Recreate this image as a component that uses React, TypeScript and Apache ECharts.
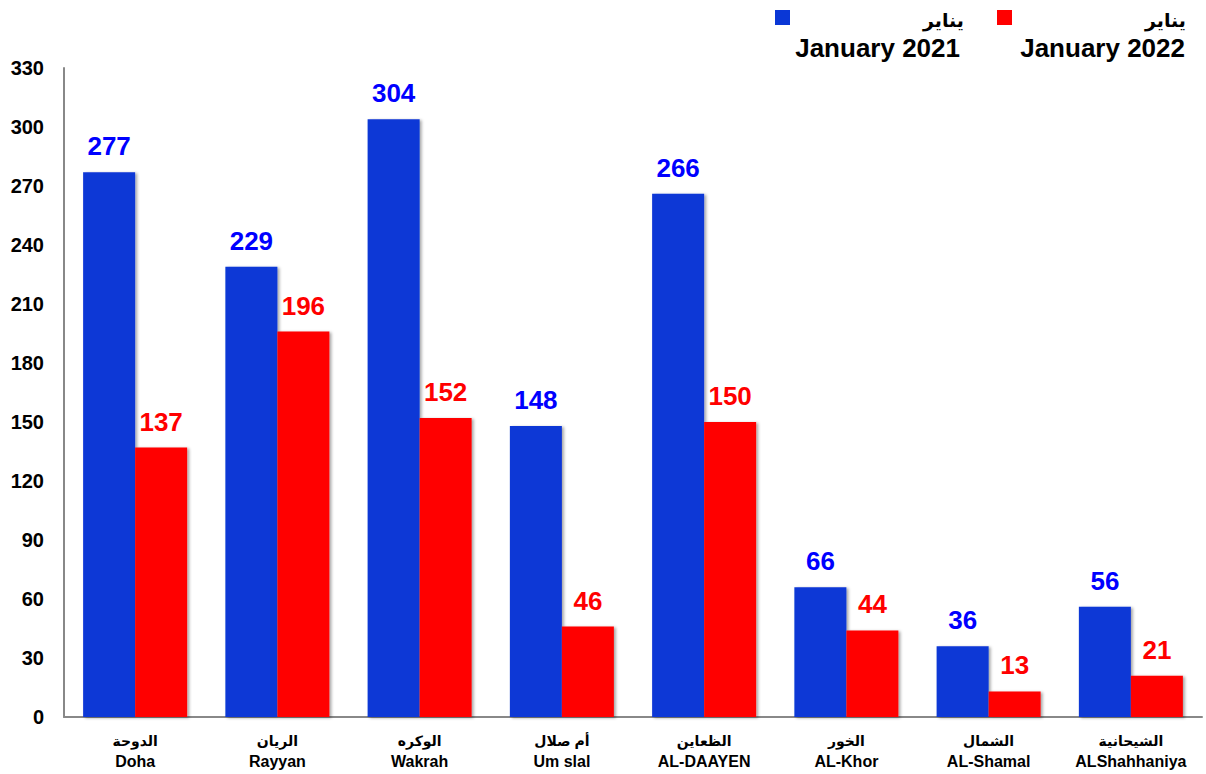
import React, { useEffect, useRef } from "react";
import * as echarts from "echarts";

const categoriesEn = ["Doha", "Rayyan", "Wakrah", "Um slal", "AL-DAAYEN", "AL-Khor", "AL-Shamal", "ALShahhaniya"];
const categoriesAr = ["الدوحة", "الريان", "الوكره", "أم صلال", "الظعاين", "الخور", "الشمال", "الشيحانية"];
const values2021 = [277, 229, 304, 148, 266, 66, 36, 56];
const values2022 = [137, 196, 152, 46, 150, 44, 13, 21];
const seriesNames = ["January 2021", "January 2022"];
const legendAr = "يناير";

const FONT = "'Liberation Sans', Arial, 'DejaVu Sans', sans-serif";
const BLUE = "#0a37d6";
const RED = "#ff0000";

export default function App() {
  const ref = useRef<HTMLDivElement>(null);
  useEffect(() => {
    if (!ref.current) return;
    const chart = echarts.init(ref.current, undefined, { renderer: "svg" });
    const barStyle = (c: string) => ({
      color: c,
      shadowColor: "rgba(0,0,0,0.35)",
      shadowBlur: 3,
      shadowOffsetX: 2,
      shadowOffsetY: 1,
    });
    const label = (c: string) => ({
      show: true,
      position: "top" as const,
      distance: 13,
      color: c === BLUE ? "#0000ff" : RED,
      fontSize: 26,
      fontWeight: "bold" as const,
      fontFamily: FONT,
    });
    chart.setOption({
      animation: false,
      backgroundColor: "#ffffff",
      grid: { left: 64, right: 4, top: 68, bottom: 57, containLabel: false },
      xAxis: {
        type: "category",
        data: categoriesEn.map((e, i) => e + "|" + categoriesAr[i]),
        axisLine: { lineStyle: { color: "#888888", width: 2 } },
        axisTick: { show: false },
        axisLabel: {
          interval: 0,
          margin: 14,
          formatter: (v: string) => {
            const [en, ar] = v.split("|");
            return "{ar|" + ar + "}\n{en|" + en + "}";
          },
          rich: {
            ar: { fontSize: 14, fontWeight: "bold", color: "#000", fontFamily: FONT, lineHeight: 20 },
            en: { fontSize: 16, fontWeight: "bold", color: "#000", fontFamily: FONT, lineHeight: 20 },
          },
        },
      },
      yAxis: {
        type: "value",
        min: 0,
        max: 330,
        interval: 30,
        axisLine: { show: true, lineStyle: { color: "#888888", width: 2 } },
        axisTick: { show: false },
        splitLine: { show: false },
        axisLabel: {
          margin: 20,
          color: "#000",
          fontSize: 20,
          fontWeight: "bold",
          fontFamily: FONT,
        },
      },
      series: [
        {
          name: seriesNames[0],
          type: "bar",
          data: values2021,
          barWidth: 52,
          barGap: "0%",
          itemStyle: barStyle(BLUE),
          label: label(BLUE),
        },
        {
          name: seriesNames[1],
          type: "bar",
          data: values2022,
          barWidth: 52,
          barGap: "0%",
          itemStyle: barStyle(RED),
          label: label(RED),
        },
      ],
      graphic: [
        { type: "rect", shape: { x: 775, y: 10, width: 15, height: 15 }, style: { fill: BLUE } },
        { type: "rect", shape: { x: 997, y: 10, width: 15, height: 15 }, style: { fill: RED } },
        {
          type: "text", x: 964, y: 20,
          style: { text: legendAr, align: "right", verticalAlign: "middle", font: "bold 19px " + FONT, fill: "#000" },
        },
        {
          type: "text", x: 1186, y: 20,
          style: { text: legendAr, align: "right", verticalAlign: "middle", font: "bold 19px " + FONT, fill: "#000" },
        },
        {
          type: "text", x: 960, y: 48,
          style: { text: seriesNames[0], align: "right", verticalAlign: "middle", font: "bold 26px " + FONT, fill: "#000" },
        },
        {
          type: "text", x: 1185, y: 48,
          style: { text: seriesNames[1], align: "right", verticalAlign: "middle", font: "bold 26px " + FONT, fill: "#000" },
        },
      ],
    });
    return () => chart.dispose();
  }, []);
  return (
    <div
      ref={ref}
      style={{ position: "fixed", left: 0, top: 0, width: 1206, height: 774, background: "#fff" }}
    />
  );
}
